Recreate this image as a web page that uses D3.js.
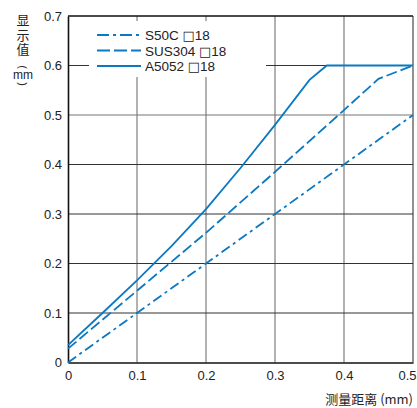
<!DOCTYPE html>
<html><head><meta charset="utf-8">
<script src="https://cdn.jsdelivr.net/npm/d3@7"></script>
<style>body{margin:0;background:#fff}svg{display:block}text{font-family:"Liberation Sans",Arial,sans-serif;fill:#222}</style>
</head><body>
<script>
const xTicks=[0,0.1,0.2,0.3,0.4,0.5];
const yTicks=[0,0.1,0.2,0.3,0.4,0.5,0.6,0.7];
const seriesNames=["S50C","SUS304","A5052"];
const seriesSize="\u25A118";
const s50cX=[0,0.5];
const s50cY=[0,0.5];
const sus304X=[0,0.1,0.2,0.3,0.4,0.45,0.5];
const sus304Y=[0.028,0.145,0.262,0.385,0.51,0.573,0.6];
const a5052X=[0,0.05,0.1,0.15,0.2,0.25,0.3,0.35,0.375,0.5];
const a5052Y=[0.035,0.1,0.166,0.235,0.31,0.393,0.48,0.571,0.6,0.6];
const dashes=["10,4,3,4","11,4",null];

const W=417,H=408;
const svg=d3.select("body").append("svg").attr("width",W).attr("height",H);
const x=d3.scaleLinear().domain([0,0.5]).range([68,413]);
const y=d3.scaleLinear().domain([0,0.7]).range([362.5,16]);
const blue="#0a78c2";

// grid
svg.append("g").selectAll("line").data(xTicks.slice(1)).join("line")
 .attr("x1",d=>x(d)).attr("x2",d=>x(d)).attr("y1",y(0)).attr("y2",y(0.7))
 .attr("stroke",d=>d===0.5?"#555":"#888").attr("stroke-width",1.3);
svg.append("g").selectAll("line").data(yTicks.slice(1)).join("line")
 .attr("x1",x(0)).attr("x2",x(0.5)).attr("y1",d=>y(d)).attr("y2",d=>y(d))
 .attr("stroke",d=>d===0.7?"#111":(d===0.5?"#777":"#333")).attr("stroke-width",d=>d===0.7?1.5:1.1);

// legend background
svg.append("rect").attr("x",89).attr("y",21).attr("width",177).attr("height",56).attr("fill","#fff");

// axes
const xAxis=d3.axisBottom(x).tickValues(xTicks).tickFormat(d=>d===0?"0":d3.format(".1f")(d)).tickSize(0).tickPadding(8);
const gx=svg.append("g").attr("transform",`translate(0,${y(0)})`).call(xAxis);
gx.select(".domain").attr("stroke","#111").attr("stroke-width",1.6);
gx.selectAll("text").attr("font-size",13).attr("fill","#222").style("font-family","Liberation Sans, Arial, sans-serif");
gx.selectAll(".tick").filter(d=>d===0.5).select("text").attr("text-anchor","end").attr("dx",3);
const yAxis=d3.axisLeft(y).tickValues(yTicks).tickFormat(d=>d===0?"0":d3.format(".1f")(d)).tickSize(0).tickPadding(6);
const gy=svg.append("g").attr("transform",`translate(${x(0)},0)`).call(yAxis);
gy.select(".domain").attr("stroke","#111").attr("stroke-width",1.6);
gy.selectAll("text").attr("font-size",13).attr("fill","#222").style("font-family","Liberation Sans, Arial, sans-serif");

// series
const line=d3.line().x(d=>x(d[0])).y(d=>y(d[1]));
const series=[d3.zip(s50cX,s50cY),d3.zip(sus304X,sus304Y),d3.zip(a5052X,a5052Y)];
series.forEach((pts,i)=>{
  const p=svg.append("path").attr("d",line(pts)).attr("fill","none").attr("stroke",blue).attr("stroke-width",1.8);
  if(dashes[i]) p.attr("stroke-dasharray",dashes[i]);
});

// legend
const ly=[35,50.5,66];
seriesNames.forEach((n,i)=>{
  const l=svg.append("line").attr("x1",97).attr("x2",141).attr("y1",ly[i]).attr("y2",ly[i]).attr("stroke",blue).attr("stroke-width",1.8);
  if(dashes[i]) l.attr("stroke-dasharray",i===0?"12,4,3,4":"13,4");
  const t=svg.append("text").attr("x",145).attr("y",ly[i]+5).attr("font-size",13.5);
  t.append("tspan").text(n+" ");
  t.append("tspan").style("font-family","DejaVu Sans, sans-serif").attr("font-size",13).text(seriesSize[0]);
  t.append("tspan").text(seriesSize.slice(1));
});

// y label (vertical)
svg.append("text").attr("x",23).attr("y",14).attr("writing-mode","vertical-rl")
 .attr("font-size",13).attr("letter-spacing",1.5).style("font-family","Noto Sans CJK SC, sans-serif").text("显示值");
svg.append("text").attr("transform","translate(23,67) rotate(90)").attr("text-anchor","middle").attr("dy","0.35em")
 .attr("font-size",11).text("(");
svg.append("text").attr("x",23).attr("y",79).attr("text-anchor","middle").attr("font-size",12).text("mm");
svg.append("text").attr("transform","translate(23,84) rotate(90)").attr("text-anchor","middle").attr("dy","0.35em")
 .attr("font-size",11).text(")");
// x label
svg.append("text").attr("x",413).attr("y",404).attr("text-anchor","end").attr("font-size",13)
 .style("font-family","Noto Sans CJK SC, sans-serif").text("测量距离 (mm)");
</script>
</body></html>
